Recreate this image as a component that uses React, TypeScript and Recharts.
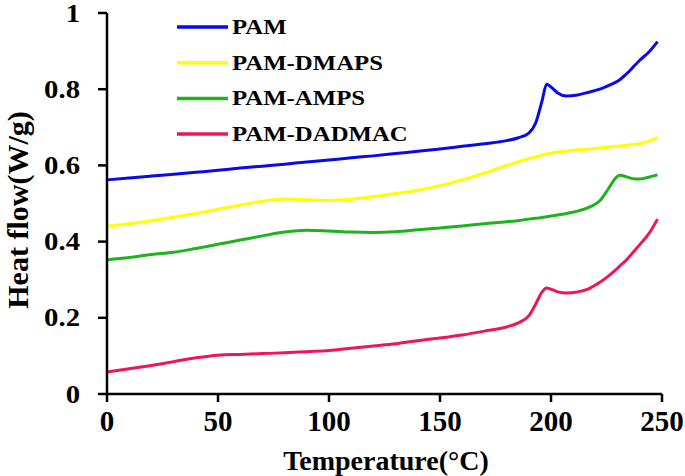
import React from 'react';
import { LineChart, Line, XAxis, YAxis, Legend } from 'recharts';

const temps = [0, 10, 20, 30, 40, 50, 60, 70, 80, 90, 100, 110, 120, 130, 140, 150, 160, 170, 180, 185, 190, 193, 196, 198, 200, 203, 207, 212, 217, 222, 226, 229, 231, 234, 237, 240, 244, 248];
const pam = [0.562, 0.567, 0.572, 0.577, 0.582, 0.587, 0.593, 0.598, 0.603, 0.609, 0.614, 0.62, 0.625, 0.631, 0.637, 0.643, 0.65, 0.657, 0.665, 0.672, 0.685, 0.71, 0.77, 0.813, 0.806, 0.79, 0.782, 0.785, 0.792, 0.8, 0.81, 0.818, 0.825, 0.84, 0.858, 0.876, 0.897, 0.925];
const pamDmaps = [0.44, 0.447, 0.455, 0.464, 0.474, 0.485, 0.496, 0.506, 0.512, 0.51, 0.508, 0.511, 0.518, 0.526, 0.535, 0.547, 0.562, 0.58, 0.6, 0.609, 0.618, 0.622, 0.627, 0.63, 0.632, 0.635, 0.638, 0.641, 0.643, 0.646, 0.648, 0.65, 0.651, 0.653, 0.655, 0.657, 0.663, 0.674];
const pamAmps = [0.352, 0.358, 0.366, 0.372, 0.382, 0.393, 0.404, 0.415, 0.425, 0.43, 0.428, 0.425, 0.424, 0.426, 0.431, 0.436, 0.441, 0.447, 0.452, 0.455, 0.459, 0.461, 0.463, 0.465, 0.467, 0.47, 0.474, 0.48, 0.49, 0.507, 0.54, 0.566, 0.574, 0.57, 0.565, 0.564, 0.569, 0.575];
const pamDadmac = [0.058, 0.066, 0.075, 0.085, 0.095, 0.102, 0.104, 0.106, 0.108, 0.111, 0.114, 0.12, 0.126, 0.132, 0.14, 0.147, 0.155, 0.165, 0.176, 0.186, 0.205, 0.235, 0.268, 0.278, 0.275, 0.268, 0.265, 0.268, 0.276, 0.293, 0.31, 0.325, 0.336, 0.352, 0.372, 0.392, 0.42, 0.459];

const seriesNames = ['PAM', 'PAM-DMAPS', 'PAM-AMPS', 'PAM-DADMAC'];
const seriesColors = ['#0a0ae8', '#ffff00', '#1cb41c', '#f01458'];
const seriesValues = [pam, pamDmaps, pamAmps, pamDadmac];

const xTicks = [0, 50, 100, 150, 200, 250];
const yTicks = [0, 0.2, 0.4, 0.6, 0.8, 1];

const data = temps.map((t, i) => {
  const row: Record<string, number> = { t };
  seriesNames.forEach((n, k) => {
    row[n] = seriesValues[k][i];
  });
  return row;
});

const FONT = '"Liberation Serif", "Times New Roman", serif';

const YTick = (props: any) => {
  const { x, y, payload } = props;
  return (
    <g transform={`translate(${x},${y}) scale(1.15,1)`}>
      <text x={0} y={0} dy={8.5} textAnchor="end" fontFamily={FONT} fontWeight="bold" fontSize={25} fill="#000">
        {String(payload.value)}
      </text>
    </g>
  );
};

const XTick = (props: any) => {
  const { x, y, payload } = props;
  return (
    <text x={x} y={y} dy={29} textAnchor="middle" fontFamily={FONT} fontWeight="bold" fontSize={29} fill="#000">
      {String(payload.value)}
    </text>
  );
};

const LegendContent = () => {
  return (
    <svg width={300} height={150} style={{ display: 'block' }}>
      {seriesNames.map((name, i) => {
        const cy = 17 + i * 35.7;
        return (
          <g key={name}>
            <line x1={7} x2={58} y1={cy} y2={cy} stroke={seriesColors[i]} strokeWidth={3.5} />
            <g transform={`translate(62,${cy + 7}) scale(1.24,1)`}>
              <text x={0} y={0} fontFamily={FONT} fontWeight="bold" fontSize={20} fill="#000">
                {name}
              </text>
            </g>
          </g>
        );
      })}
    </svg>
  );
};

export default function App() {
  return (
    <div style={{ position: 'absolute', left: 0, top: 0, background: '#fff' }}>
      <LineChart width={685} height={476} data={data} margin={{ top: 13, right: 23, bottom: 0, left: 0 }}>
        <XAxis
          dataKey="t"
          type="number"
          domain={[0, 250]}
          ticks={xTicks}
          height={82}
          axisLine={{ stroke: '#000', strokeWidth: 2.5 }}
          tickLine={{ stroke: '#000', strokeWidth: 2.5 }}
          tickSize={8}
          tickMargin={0}
          tick={<XTick />}
          interval={0}
        />
        <YAxis
          type="number"
          domain={[0, 1]}
          ticks={yTicks}
          width={107}
          axisLine={{ stroke: '#000', strokeWidth: 2.5 }}
          tickLine={{ stroke: '#000', strokeWidth: 2.5 }}
          tickSize={9}
          tickMargin={18}
          tick={<YTick />}
          interval={0}
        />
        <Legend
          layout="horizontal"
          verticalAlign="middle"
          align="center"
          wrapperStyle={{ left: 170, top: 10, width: 300, height: 150 }}
          content={<LegendContent />}
        />
        {seriesNames.map((n, k) => (
          <Line
            key={n}
            type="monotone"
            dataKey={n}
            name={n}
            stroke={seriesColors[k]}
            strokeWidth={3}
            dot={false}
            activeDot={false}
            isAnimationActive={false}
          />
        ))}
        <text x={386} y={470} textAnchor="middle" fontFamily={FONT} fontWeight="bold" fontSize={28} fill="#000">
          Temperature(°C)
        </text>
        <text
          x={0}
          y={0}
          transform="translate(28,210) rotate(-90)"
          textAnchor="middle"
          fontFamily={FONT}
          fontWeight="bold"
          fontSize={30}
          fill="#000"
        >
          Heat flow(W/g)
        </text>
      </LineChart>
    </div>
  );
}
